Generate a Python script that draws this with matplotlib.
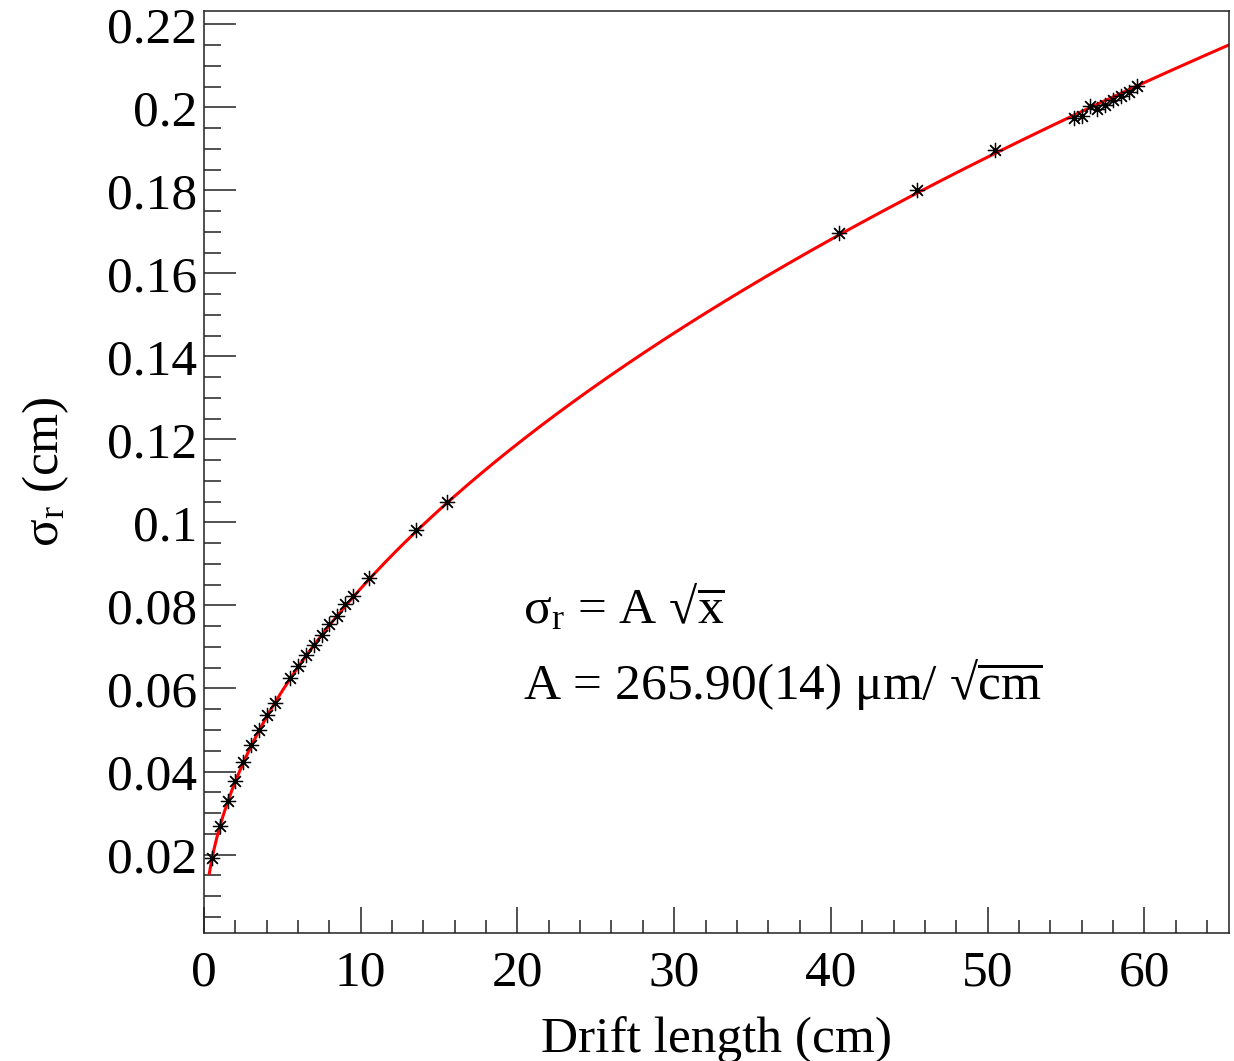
import numpy as np
import matplotlib
matplotlib.use("Agg")
import matplotlib.pyplot as plt
from matplotlib.ticker import MultipleLocator

plt.rcParams['font.family'] = ['Liberation Serif', 'DejaVu Serif']
plt.rcParams['mathtext.fontset'] = 'custom'
plt.rcParams['mathtext.rm'] = 'Liberation Serif'
plt.rcParams['mathtext.it'] = 'Liberation Serif:italic'

drift_cm = [0.5, 1.0, 1.5, 2.0, 2.5, 3.0, 3.5, 4.0, 4.5, 5.5, 6.0, 6.5, 7.0,
            7.5, 8.0, 8.5, 9.0, 9.5, 10.5, 13.5, 15.5, 40.5, 45.5, 50.5,
            55.5, 56.0, 56.5, 57.0, 57.5, 58.0, 58.5, 59.0, 59.5]
sigma_cm = [0.0192, 0.0269, 0.0328, 0.0376, 0.0423, 0.0463, 0.0500, 0.0536,
            0.0566, 0.0626, 0.0654, 0.0680, 0.0705, 0.0730, 0.0755, 0.0775,
            0.0803, 0.0823, 0.0866, 0.0982, 0.1049, 0.1697, 0.1800, 0.1896,
            0.1975, 0.1979, 0.2002, 0.1996, 0.2006, 0.2017, 0.2027, 0.2037,
            0.2052]

# parametre du fit sigma = A sqrt(x), A en um/sqrt(cm)
A_um = 265.90
fit_range = (0.34, 65.4)

fig = plt.figure(figsize=(12.34, 10.61), dpi=100)
ax = fig.add_axes([204/1234, 128/1061, 1025/1234, 922/1061])

xf = np.linspace(fit_range[0], fit_range[1], 500)
ax.plot(xf, A_um*1e-4*np.sqrt(xf), color='#ff0000', lw=2.2, zorder=2)
ax.plot(drift_cm, sigma_cm, ls='none', marker=(8, 2, 0), ms=11,
        mec='black', mew=0.9, zorder=3)

ax.set_xlim(0, 65.4)
ax.set_ylim(0.0011, 0.2232)
ax.xaxis.set_major_locator(MultipleLocator(10))
ax.xaxis.set_minor_locator(MultipleLocator(2))
ax.yaxis.set_minor_locator(MultipleLocator(0.005))
ax.set_yticks(np.arange(0.02, 0.221, 0.02))
ax.set_yticklabels(['0.02', '0.04', '0.06', '0.08', '0.1', '0.12', '0.14',
                    '0.16', '0.18', '0.2', '0.22'])

ax.tick_params(axis='both', which='both', direction='in', width=1.1,
               colors='#222222', labelcolor='black', labelsize=37)
ax.tick_params(axis='y', which='major', length=23, pad=5)
ax.tick_params(axis='y', which='minor', length=12)
ax.tick_params(axis='x', which='major', length=19, pad=12)
ax.tick_params(axis='x', which='minor', length=9.6)
for s in ax.spines.values():
    s.set_linewidth(1.1)
    s.set_color('#222222')

ax.set_xlabel('Drift length (cm)', fontsize=37, labelpad=14)
ax.set_ylabel(r'σ$_{\mathrm{r}}$ (cm)', fontsize=37, labelpad=26)

ax.text(20.35, 0.0758, r'σ$_{\mathrm{r}}$ = A √$\overline{\mathrm{x}}$',
        fontsize=37, va='baseline', ha='left')
ax.text(20.35, 0.0574, r'A = 265.90(14) μm/ √$\overline{\mathrm{cm}}$',
        fontsize=37, va='baseline', ha='left')

fig.savefig('out.png', dpi=100)
